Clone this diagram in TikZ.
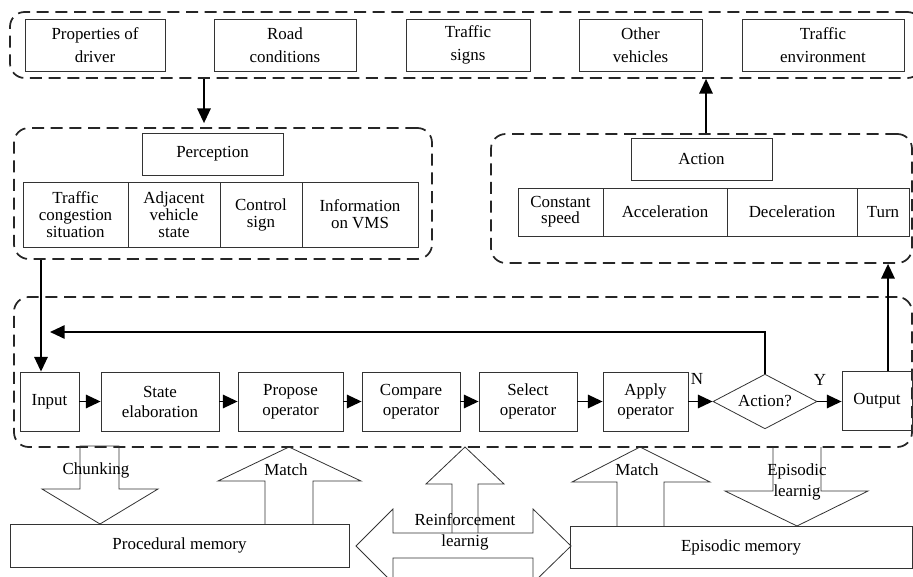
\documentclass[tikz,border=0pt]{standalone}
\usepackage{fontspec}
\setmainfont{Liberation Serif}
\usetikzlibrary{arrows.meta,shapes.geometric,fit}

\begin{document}
\begin{tikzpicture}[x=0.75pt,y=-0.75pt,
  every node/.style={font=\fontsize{12.7}{15}\selectfont, text=black},
  cell/.style={draw=black!80, line width=0.6pt, inner sep=0pt, align=center},
  % span={x1}{y1}{x2}{y2}: a box given by two opposite corners
  span/.style n args={4}{minimum width={(#3-#1)*0.75pt}, minimum height={(#4-#2)*0.75pt},
                         at={({(#1+#3)/2},{(#2+#4)/2})}},
  tall/.style={font=\fontsize{12.7}{17}\selectfont},
  snug/.style={font=\fontsize{12.7}{12.8}\selectfont},
  snugger/.style={font=\fontsize{12.7}{12}\selectfont},
  group/.style={draw=black!85, line width=1.3pt, dash pattern=on 9pt off 5pt,
                rounded corners=11pt, inner sep=0pt},
  link/.style={line width=1.4pt, -{Triangle[length=11pt,width=10pt]}},
  blockarrow/.style={draw=black!80, line width=0.6pt},
  lbl/.style={font=\fontsize{12.7}{15.75}\selectfont, align=center, inner sep=0pt}
]
\useasboundingbox (0,0) rectangle (913,577);
\clip (0,0) rectangle (913,577);

% ---- traffic environment -------------------------------------------
\node[group, fit={(10,12)(922,78)}] (env) {};
\node[cell, tall, span={25}{19}{165}{71}]  (drv)  {Properties of\\driver};
\node[cell, tall, span={214}{19}{356}{71}] (road) {Road\\conditions};
\node[cell, tall, span={406}{19}{530}{71}] (sign) {Traffic\\signs};
\node[cell, tall, span={579}{19}{702}{71}] (veh)  {Other\\vehicles};
\node[cell, tall, span={742}{19}{904}{71}] (tenv) {Traffic\\environment};

% ---- perception ----------------------------------------------------
\node[group, fit={(14,128)(432,259)}] (percg) {};
\node[cell, span={142}{133}{283}{175}] (perc) {Perception};
\node[cell, snug, span={23}{182}{128}{247}]  (p1) {Traffic\\congestion\\situation};
\node[cell, snug, span={128}{182}{220}{247}] (p2) {Adjacent\\vehicle\\state};
\node[cell, snug, span={220}{182}{302}{247}] (p3) {Control\\sign};
\node[cell, snug, span={302}{182}{418}{247}] (p4) {Information\\on VMS};

% ---- action --------------------------------------------------------
\node[group, fit={(491,134)(912,263)}] (actg) {};
\node[cell, span={631}{138}{772}{180}] (act) {Action};
\node[cell, snugger, span={518}{188}{603}{236}] (a1) {Constant\\speed};
\node[cell, span={603}{188}{727}{236}] (a2) {Acceleration};
\node[cell, span={727}{188}{857}{236}] (a3) {Deceleration};
\node[cell, span={857}{188}{909}{236}] (a4) {Turn};

% ---- decision cycle ------------------------------------------------
\node[group, fit={(14,297)(912,447)}] (loop) {};
\node[cell, span={20}{372}{79}{431}]   (inp) {Input};
\node[cell, span={101}{372}{219}{431}] (se)  {State\\elaboration};
\node[cell, span={238}{372}{343}{431}] (po)  {Propose\\operator};
\node[cell, span={362}{372}{460}{431}] (co)  {Compare\\operator};
\node[cell, span={479}{372}{577}{431}] (so)  {Select\\operator};
\node[cell, span={603}{372}{688}{431}] (ao)  {Apply\\operator};
\node[draw=black!80, line width=0.6pt, diamond, aspect=1.9,
      minimum width=78pt, minimum height=41pt, inner sep=0pt] (dec) at (765,401.5) {Action?};
\node[cell, span={842}{371}{912}{430}] (out) {Output};

\node at (697,379) {N};
\node at (820,380) {Y};

\draw[link] (inp.east) -- (se.west);
\draw[link] (se.east) -- (po.west);
\draw[link] (po.east) -- (co.west);
\draw[link] (co.east) -- (so.west);
\draw[link] (so.east) -- (ao.west);
\draw[link] (ao.east) -- (ao.east -| dec.west);
\draw[link] (dec.east) -- (dec.east -| out.west);

\coordinate (back) at (50,332);
\draw[link] (dec.north) |- (back);

% ---- links between the groups --------------------------------------
\coordinate (xdown) at (204,0);
\coordinate (xin)   at (41,0);
\coordinate (xup)   at (706,0);
\coordinate (xout)  at (888,0);
\draw[link, shorten >=3pt] (env.south -| xdown) -- (percg.north -| xdown);
\draw[link] (percg.south -| xin) -- (inp.north -| xin);
\draw[link] (actg.north -| xup) -- (env.south -| xup);
\draw[link] (out.north -| xout) -- (actg.south -| xout);

% ---- long-term memories --------------------------------------------
\node[cell, span={10}{524}{349}{567}]  (proc) {Procedural memory};
\node[cell, span={570}{526}{912}{568}] (epi)  {Episodic memory};

% chunking (down)
\draw[blockarrow] (80,446) -- (80,489) -- (42,489) -- (100,524) -- (158,489)
  -- (119,489) -- (119,446) -- cycle;
\node[lbl] at (96,470) {Chunking};

% match from procedural memory (up)
\draw[blockarrow] (265,524) -- (265,481) -- (218,481) -- (289,447) -- (361,481)
  -- (313,481) -- (313,524);
\node[lbl] at (286,470) {Match};

% reinforcement learning (double arrow and up arrow)
\draw[blockarrow] (393,533) -- (393,509) -- (356,546) -- (393,583) -- (393,558)
  -- (533,558) -- (533,583) -- (571,546) -- (533,509) -- (533,533) -- cycle;
\draw[blockarrow] (452,533) -- (452,484) -- (426,484) -- (465,447) -- (504,484)
  -- (478,484) -- (478,533);
\node[lbl] at (465,531.5) {Reinforcement\\learnig};

% match from episodic memory (up)
\draw[blockarrow] (617,526) -- (617,482) -- (572,482) -- (640,447) -- (710,482)
  -- (664,482) -- (664,526);
\node[lbl] at (637,470) {Match};

% episodic learning (down)
\draw[blockarrow] (773,447) -- (773,491) -- (725,491) -- (797,526) -- (868,491)
  -- (821,491) -- (821,447);
\node[lbl] at (797,482) {Episodic\\learnig};
\end{tikzpicture}
\end{document}
